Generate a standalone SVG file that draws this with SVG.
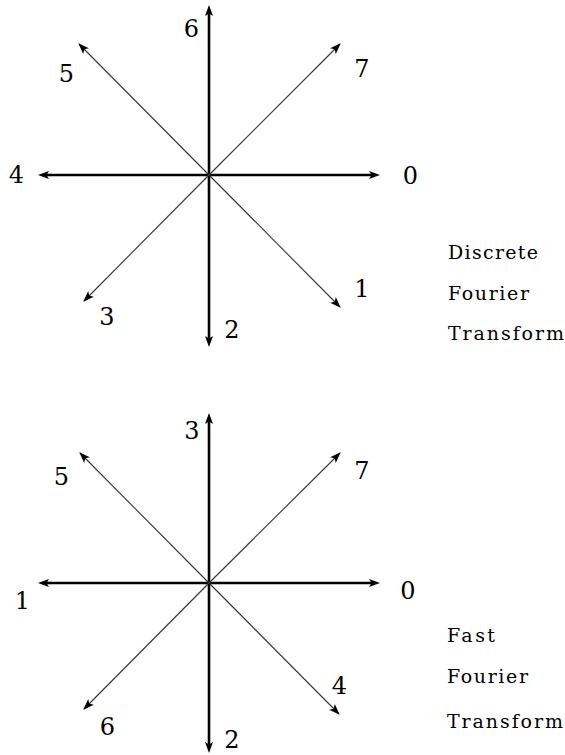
<svg xmlns="http://www.w3.org/2000/svg" width="565" height="755" viewBox="0 0 565 755">
<style>
.ax{stroke:#000;stroke-width:2.6;fill:none;marker-end:url(#ah)}
.dg{stroke:#333;stroke-width:1.1;fill:none;marker-end:url(#dh)}
</style>
<defs>
<marker id="ah" markerUnits="userSpaceOnUse" markerWidth="12" markerHeight="10" refX="5" refY="4" orient="auto" viewBox="0 0 12 8">
<path d="M0,0 L11,4 L0,8 L2.5,4 Z" fill="#000"/>
</marker>
<marker id="dh" markerUnits="userSpaceOnUse" markerWidth="12" markerHeight="10" refX="10" refY="4" orient="auto" viewBox="0 0 12 8">
<path d="M0,0 L11,4 L0,8 L2.5,4 Z" fill="#000"/>
</marker>
</defs>
<rect width="565" height="755" fill="#fff"/>
<g id="connectors">
<line class="ax" x1="209" y1="175" x2="374" y2="175"/>
<line class="ax" x1="209" y1="175" x2="44" y2="175"/>
<line class="ax" x1="209" y1="175" x2="209" y2="11"/>
<line class="ax" x1="209" y1="175" x2="209" y2="341"/>
<line class="dg" x1="209" y1="175" x2="340" y2="44"/>
<line class="dg" x1="209" y1="175" x2="79" y2="44"/>
<line class="dg" x1="209" y1="175" x2="84" y2="301"/>
<line class="dg" x1="209" y1="175" x2="340" y2="307"/>
<line class="ax" x1="209" y1="583" x2="374" y2="583"/>
<line class="ax" x1="209" y1="583" x2="44" y2="583"/>
<line class="ax" x1="209" y1="583" x2="209" y2="419"/>
<line class="ax" x1="209" y1="583" x2="209" y2="747"/>
<line class="dg" x1="209" y1="583" x2="340" y2="453"/>
<line class="dg" x1="209" y1="583" x2="80" y2="453"/>
<line class="dg" x1="209" y1="583" x2="84" y2="709"/>
<line class="dg" x1="209" y1="583" x2="339" y2="714"/>
</g>
<g id="dft-labels" font-family="'DejaVu Serif', 'Liberation Serif', serif" font-size="24" fill="#000" text-anchor="middle">
<g id="dft-0"><text x="410.5" y="184">0</text></g>
<g id="dft-1"><text x="362" y="297">1</text></g>
<g id="dft-2"><text x="232" y="338">2</text></g>
<g id="dft-3"><text x="107" y="325">3</text></g>
<g id="dft-4"><text x="16.5" y="183">4</text></g>
<g id="dft-5"><text x="66.5" y="82">5</text></g>
<g id="dft-6"><text x="191.5" y="37">6</text></g>
<g id="dft-7"><text x="362" y="77">7</text></g>
<g id="dft-title" font-size="19" text-anchor="start">
<text x="448" y="259" textLength="90" lengthAdjust="spacing">Discrete</text>
<text x="448" y="300" textLength="81" lengthAdjust="spacing">Fourier</text>
<text x="448" y="340" textLength="116" lengthAdjust="spacing">Transform</text>
</g>
</g>
<g id="fft-labels" font-family="'DejaVu Serif', 'Liberation Serif', serif" font-size="24" fill="#000" text-anchor="middle">
<g id="fft-0"><text x="408" y="599">0</text></g>
<g id="fft-1"><text x="22.5" y="609">1</text></g>
<g id="fft-2"><text x="232" y="748">2</text></g>
<g id="fft-3"><text x="192" y="439">3</text></g>
<g id="fft-4"><text x="339.5" y="694">4</text></g>
<g id="fft-5"><text x="61.5" y="485">5</text></g>
<g id="fft-6"><text x="107.5" y="735">6</text></g>
<g id="fft-7"><text x="362" y="479">7</text></g>
<g id="fft-title" font-size="19" text-anchor="start">
<text x="447" y="642" textLength="48" lengthAdjust="spacing">Fast</text>
<text x="447" y="683" textLength="81" lengthAdjust="spacing">Fourier</text>
<text x="447" y="728" textLength="116" lengthAdjust="spacing">Transform</text>
</g>
</g>
</svg>
